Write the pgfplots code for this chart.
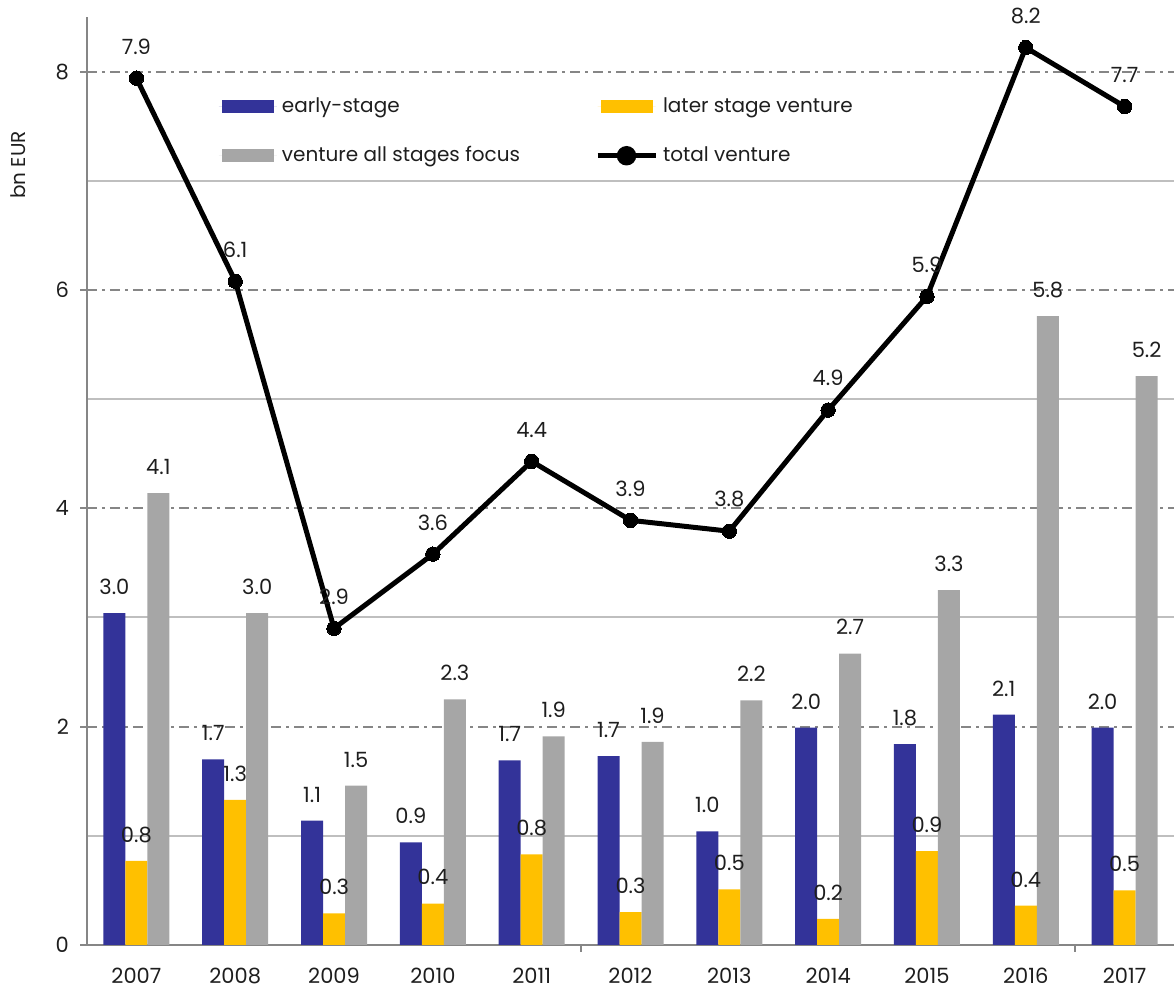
\documentclass[border=0pt]{standalone}
\usepackage{fontspec}
\setmainfont{Poppins}
\usepackage{pgfplots}
\pgfplotsset{compat=1.18}

\definecolor{cblue}{RGB}{51,51,153}
\definecolor{cyellow}{RGB}{255,192,0}
\definecolor{cgray}{RGB}{166,166,166}
\definecolor{axgray}{RGB}{134,134,134}
\definecolor{gridlight}{RGB}{191,191,191}
\definecolor{txt}{RGB}{30,30,30}

\newcommand{\lblfont}{\fontsize{10.5pt}{12pt}\selectfont}
\newcommand{\legfont}{\fontsize{10pt}{12pt}\selectfont}

% values in bn EUR, 2007..2017
\pgfplotstableread{
x early later allst total
0 3.04 0.77 4.14 7.94
1 1.70 1.33 3.04 6.08
2 1.14 0.29 1.46 2.90
3 0.94 0.38 2.25 3.58
4 1.69 0.83 1.91 4.43
5 1.73 0.30 1.86 3.89
6 1.04 0.51 2.24 3.79
7 1.99 0.24 2.67 4.90
8 1.84 0.86 3.25 5.94
9 2.11 0.36 5.76 8.22
10 1.99 0.50 5.21 7.68
}\vcdata

\begin{document}
\begin{tikzpicture}
\useasboundingbox (-43.5pt,-23pt) rectangle (543.5pt,472.5pt);
\begin{axis}[
    width=543.5pt, height=464pt, scale only axis,
    clip=false,
    xmin=-0.5, xmax=10.5,
    ymin=0, ymax=8.5,
    axis x line*=bottom, axis y line*=left,
    axis line style={-, draw=axgray, line width=1pt},
    tick align=outside,
    major tick length=3.5pt, minor tick length=0pt,
    xtick={0,...,10},
    xticklabels={2007,2008,2009,2010,2011,2012,2013,2014,2015,2016,2017},
    xtick style={draw=none},
    extra x ticks={4.5,9.5},
    extra x tick labels={},
    extra x tick style={xtick style={draw=axgray, line width=1pt}},
    ytick={0,2,4,6,8},
    minor ytick={1,3,5,7},
    ytick style={draw=axgray, line width=1pt},
    ymajorgrids, yminorgrids,
    major grid style={draw=axgray, line width=0.9pt, dash pattern=on 5pt off 2.5pt on 1.5pt off 2.5pt},
    minor grid style={draw=gridlight, line width=1pt},
    /pgf/number format/assume math mode=true,
    tick label style={font=\lblfont, text=txt},
    yticklabel style={xshift=-2pt},
    xticklabel style={yshift=-4.5pt},
    legend columns=2,
    legend cell align=left,
    legend style={at={(0.1155,0.922)}, anchor=north west, draw=none, fill=none,
        font=\legfont, text=txt, row sep=11.5pt,
        nodes={inner xsep=2.5pt},
        /tikz/every even column/.append style={column sep=35pt}},
    every node near coord/.append style={font=\lblfont, text=txt, inner sep=0pt, anchor=south},
]
\addplot[ybar, bar width=11pt, bar shift=-11pt, fill=cblue, draw=none,
    nodes near coords={\pgfmathprintnumber[fixed,fixed zerofill,precision=1]{\pgfplotspointmeta}},
    every node near coord/.append style={yshift=9pt, xshift=-11pt},
    legend image code/.code={\path (0pt,0pt) -- (29pt,0pt);
        \fill[cblue] (1.5pt,-3.25pt) rectangle (27.5pt,3.25pt);}]
    table[x=x, y=early] {\vcdata};
\addlegendentry{early-stage}
\addplot[ybar, bar width=11pt, bar shift=0pt, fill=cyellow, draw=none,
    nodes near coords={\pgfmathprintnumber[fixed,fixed zerofill,precision=1]{\pgfplotspointmeta}},
    every node near coord/.append style={yshift=9pt},
    legend image code/.code={\path (0pt,0pt) -- (29pt,0pt);
        \fill[cyellow] (1.5pt,-3.25pt) rectangle (27.5pt,3.25pt);}]
    table[x=x, y=later] {\vcdata};
\addlegendentry{later stage venture}
\addplot[ybar, bar width=11pt, bar shift=11pt, fill=cgray, draw=none,
    nodes near coords={\pgfmathprintnumber[fixed,fixed zerofill,precision=1]{\pgfplotspointmeta}},
    every node near coord/.append style={yshift=9pt, xshift=11pt},
    legend image code/.code={\path (0pt,0pt) -- (29pt,0pt);
        \fill[cgray] (1.5pt,-3.25pt) rectangle (27.5pt,3.25pt);}]
    table[x=x, y=allst] {\vcdata};
\addlegendentry{venture all stages focus}
\addplot[sharp plot, black, line width=2.5pt, mark=*, mark size=3.6pt,
    mark options={solid, fill=black, line width=0pt},
    nodes near coords={\pgfmathprintnumber[fixed,fixed zerofill,precision=1]{\pgfplotspointmeta}},
    every node near coord/.append style={yshift=12pt},
    legend image code/.code={
        \draw[black, line width=2.5pt] (0pt,0pt) -- (29pt,0pt);
        \fill[black] (14.5pt,0pt) circle (3.6pt);}]
    table[x=x, y=total] {\vcdata};
\addlegendentry{total venture}
\end{axis}
\node[rotate=90, font=\legfont, text=txt] at (-34.5pt, 390pt) {bn EUR};
\end{tikzpicture}
\end{document}
